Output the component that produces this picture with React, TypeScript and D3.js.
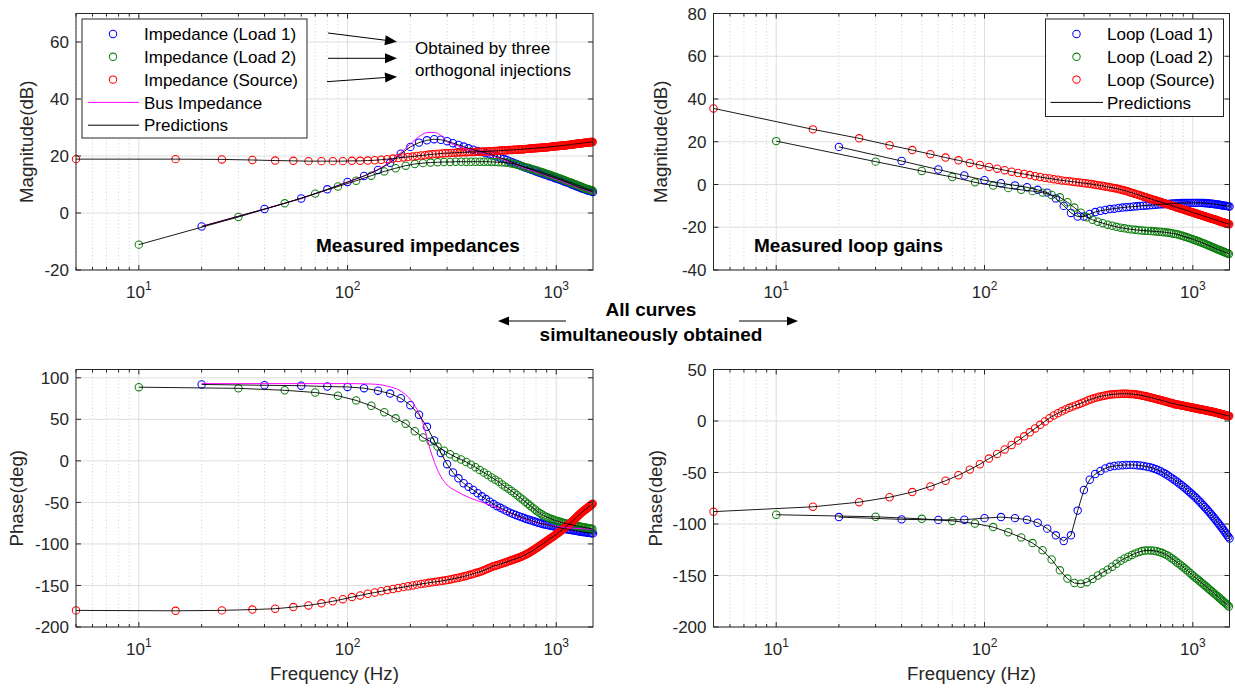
import React from "react";
import * as d3 from "d3";

// injection frequencies (Hz)
const sourceFreqs = [
  5, 15, 25, 35, 45, 55, 65, 75, 85, 95,
  105, 115, 125, 135, 145, 155, 165, 175, 185, 195,
  205, 215, 225, 235, 245, 255, 265, 275, 285, 295,
  305, 315, 325, 335, 345, 355, 365, 375, 385, 395,
  405, 415, 425, 435, 445, 455, 465, 475, 485, 495,
  505, 515, 525, 535, 545, 555, 565, 575, 585, 595,
  605, 615, 625, 635, 645, 655, 665, 675, 685, 695,
  705, 715, 725, 735, 745, 755, 765, 775, 785, 795,
  805, 815, 825, 835, 845, 855, 865, 875, 885, 895,
  905, 915, 925, 935, 945, 955, 965, 975, 985, 995,
  1005, 1015, 1025, 1035, 1045, 1055, 1065, 1075, 1085, 1095,
  1105, 1115, 1125, 1135, 1145, 1155, 1165, 1175, 1185, 1195,
  1205, 1215, 1225, 1235, 1245, 1255, 1265, 1275, 1285, 1295,
  1305, 1315, 1325, 1335, 1345, 1355, 1365, 1375, 1385, 1395,
  1405, 1415, 1425, 1435, 1445, 1455, 1465, 1475, 1485, 1495,
];
const load1Freqs = [
  20, 40, 60, 80, 100, 120, 140, 160, 180, 200,
  220, 240, 260, 280, 300, 320, 340, 360, 380, 400,
  420, 440, 460, 480, 500, 520, 540, 560, 580, 600,
  620, 640, 660, 680, 700, 720, 740, 760, 780, 800,
  820, 840, 860, 880, 900, 920, 940, 960, 980, 1000,
  1020, 1040, 1060, 1080, 1100, 1120, 1140, 1160, 1180, 1200,
  1220, 1240, 1260, 1280, 1300, 1320, 1340, 1360, 1380, 1400,
  1420, 1440, 1460, 1480, 1500,
];
const load2Freqs = [
  10, 30, 50, 70, 90, 110, 130, 150, 170, 190,
  210, 230, 250, 270, 290, 310, 330, 350, 370, 390,
  410, 430, 450, 470, 490, 510, 530, 550, 570, 590,
  610, 630, 650, 670, 690, 710, 730, 750, 770, 790,
  810, 830, 850, 870, 890, 910, 930, 950, 970, 990,
  1010, 1030, 1050, 1070, 1090, 1110, 1130, 1150, 1170, 1190,
  1210, 1230, 1250, 1270, 1290, 1310, 1330, 1350, 1370, 1390,
  1410, 1430, 1450, 1470, 1490,
];

// impedance magnitude (dB)
const impMagLoad1 = [
  -4.7, 1.4, 5.1, 8.3, 10.9, 13.0, 15.1, 17.6, 20.8, 23.2,
  24.7, 25.5, 25.9, 25.7, 25.2, 24.5, 23.9, 23.3, 22.7, 22.2,
  21.8, 21.4, 21.0, 20.6, 20.2, 19.8, 19.4, 19.0, 18.6, 18.1,
  17.7, 17.3, 16.9, 16.5, 16.1, 15.8, 15.5, 15.2, 14.9, 14.6,
  14.3, 14.0, 13.8, 13.5, 13.3, 13.0, 12.8, 12.6, 12.3, 12.1,
  11.9, 11.7, 11.5, 11.2, 11.0, 10.8, 10.6, 10.4, 10.1, 9.9,
  9.7, 9.5, 9.3, 9.1, 8.9, 8.7, 8.6, 8.4, 8.2, 8.1,
  7.9, 7.8, 7.7, 7.5, 7.4,
];
const impMagLoad2 = [
  -11.1, -1.4, 3.4, 6.8, 9.3, 11.3, 13.1, 14.6, 15.7, 16.6,
  17.2, 17.5, 17.7, 17.8, 17.9, 17.9, 18.0, 18.0, 18.0, 18.0,
  18.0, 18.0, 18.0, 18.0, 17.9, 17.9, 17.8, 17.8, 17.7, 17.6,
  17.4, 17.2, 16.9, 16.7, 16.4, 16.1, 15.9, 15.6, 15.4, 15.1,
  14.9, 14.6, 14.4, 14.1, 13.9, 13.6, 13.4, 13.2, 12.9, 12.7,
  12.5, 12.2, 12.0, 11.8, 11.6, 11.3, 11.1, 10.9, 10.7, 10.5,
  10.3, 10.1, 9.9, 9.7, 9.5, 9.3, 9.1, 8.9, 8.7, 8.5,
  8.4, 8.3, 8.1, 8.0, 7.9,
];
const impMagSource = [
  18.9, 18.9, 18.8, 18.6, 18.4, 18.3, 18.2, 18.2, 18.2, 18.2,
  18.3, 18.3, 18.4, 18.5, 18.7, 18.9, 19.1, 19.3, 19.5, 19.7,
  19.8, 20.0, 20.2, 20.3, 20.5, 20.6, 20.7, 20.8, 20.9, 21.0,
  21.0, 21.1, 21.1, 21.2, 21.2, 21.3, 21.3, 21.3, 21.4, 21.4,
  21.4, 21.5, 21.5, 21.5, 21.6, 21.6, 21.6, 21.7, 21.7, 21.7,
  21.8, 21.8, 21.8, 21.9, 21.9, 21.9, 22.0, 22.0, 22.0, 22.1,
  22.1, 22.1, 22.2, 22.2, 22.2, 22.3, 22.3, 22.3, 22.4, 22.4,
  22.4, 22.5, 22.5, 22.5, 22.6, 22.6, 22.6, 22.7, 22.7, 22.7,
  22.8, 22.8, 22.8, 22.9, 22.9, 22.9, 23.0, 23.0, 23.0, 23.1,
  23.1, 23.1, 23.2, 23.2, 23.2, 23.3, 23.3, 23.3, 23.4, 23.4,
  23.4, 23.5, 23.5, 23.5, 23.6, 23.6, 23.6, 23.7, 23.7, 23.7,
  23.8, 23.8, 23.8, 23.9, 23.9, 23.9, 24.0, 24.0, 24.0, 24.1,
  24.1, 24.1, 24.2, 24.2, 24.2, 24.3, 24.3, 24.3, 24.4, 24.4,
  24.4, 24.5, 24.5, 24.5, 24.6, 24.6, 24.6, 24.7, 24.7, 24.7,
  24.7, 24.7, 24.8, 24.8, 24.8, 24.8, 24.9, 24.9, 24.9, 24.9,
];
const busMagFreqs = [20, 40, 60, 80, 100, 120, 140, 160, 180, 200, 220, 240, 260, 280, 300, 330, 360, 400, 450, 500, 600, 700, 800, 1000, 1200, 1500];
const busMag = [-4.7, 1.4, 5.1, 8.2, 10.8, 13.0, 15.3, 18.0, 21.2, 24.2, 26.8, 28.2, 28.3, 27.2, 25.0, 23.8, 22.9, 22.0, 21.0, 20.0, 17.8, 15.8, 14.4, 11.8, 9.6, 7.1];

// impedance phase (deg)
const impPhLoad1 = [
  92, 91, 90.5, 89.5, 89, 87.5, 84.5, 81, 75.5, 67,
  55.5, 41, 24.5, 9.5, -4, -14, -21, -27, -31.3, -35,
  -39, -42.7, -46, -49.2, -52, -54.5, -56.5, -58.5, -60.5, -62.3,
  -63.8, -65.2, -66.5, -67.7, -68.8, -69.9, -70.9, -71.9, -72.8, -73.7,
  -74.5, -75.2, -75.9, -76.5, -77, -77.5, -78, -78.5, -79, -79.5,
  -80, -80.5, -81, -81.4, -81.8, -82.2, -82.6, -83, -83.3, -83.6,
  -83.9, -84.2, -84.5, -84.8, -85.1, -85.3, -85.6, -85.8, -86, -86.3,
  -86.5, -86.7, -86.9, -87.1, -87.3,
];
const impPhLoad2 = [
  88.7, 87.3, 85, 82.3, 78.4, 72.8, 66.3, 58.5, 51.2, 44.8,
  35.7, 28.2, 23.2, 17.2, 12.3, 8, 4.4, 1.6, -1.4, -4.5,
  -7.6, -11, -14, -17, -20, -22.6, -25.1, -28.5, -31.1, -33.5,
  -36.3, -38.6, -41.3, -44, -46.5, -49.2, -51.7, -54.1, -56.3, -58.5,
  -60.8, -62.6, -64.2, -65.8, -67.1, -68.2, -69.2, -70.1, -70.9, -71.7,
  -72.4, -73.1, -73.7, -74.3, -74.8, -75.3, -75.7, -76.1, -76.5, -76.9,
  -77.3, -77.7, -78.1, -78.5, -78.9, -79.2, -79.6, -79.9, -80.2, -80.5,
  -80.8, -81.1, -81.4, -81.7, -82,
];
const impPhSource = [
  -180, -180.5, -180, -179, -178, -176, -174, -171.5, -169, -166.5,
  -164, -162, -160, -158.5, -157, -155.5, -154.2, -153, -152, -151,
  -150, -149, -148.2, -147.5, -146.8, -146.2, -145.6, -145, -144.4, -143.8,
  -143, -142.4, -141.7, -141, -140.3, -139.6, -138.8, -138, -137.2, -136.4,
  -135.6, -134.8, -134, -133.1, -132.2, -131.2, -130.2, -129.2, -128.2, -127.2,
  -126.5, -126, -125.3, -124.6, -124, -123.3, -122.6, -122, -121.3, -120.6,
  -120, -119.4, -118.8, -118.2, -117.6, -117, -116.3, -115.6, -114.9, -114.2,
  -113.5, -112.7, -111.9, -111.1, -110.3, -109.5, -108.6, -107.7, -106.8, -105.9,
  -105, -104.1, -103.2, -102.3, -101.4, -100.5, -99.6, -98.7, -97.8, -96.9,
  -96, -95.2, -94.4, -93.6, -92.8, -92, -91.2, -90.4, -89.6, -88.8,
  -88, -87.2, -86.4, -85.6, -84.8, -84, -83.2, -82.4, -81.6, -80.8,
  -80, -79.2, -78.4, -77.6, -76.8, -76, -75.2, -74.4, -73.6, -72.8,
  -72, -71.1, -70.2, -69.3, -68.4, -67.5, -66.7, -65.9, -65.1, -64.3,
  -63.5, -62.8, -62.1, -61.4, -60.7, -60, -59.4, -58.8, -58.2, -57.6,
  -57, -56.4, -55.8, -55.2, -54.6, -54, -53.4, -52.8, -52.2, -51.6,
];
const busPhFreqs = [20, 60, 100, 130, 155, 180, 200, 215, 230, 240, 250, 265, 280, 300, 335, 390, 450, 530, 620, 700, 800, 900, 1000, 1200, 1500];
const busPh = [93, 93, 93, 92.5, 90, 84, 74, 62, 45, 28, 12, -6, -19, -29, -37, -45, -50.5, -57, -64, -69.5, -74, -77, -79, -81, -82.5];

// loop gain magnitude (dB)
const loopMagLoad1 = [
  17.6, 11.0, 7.0, 4.2, 2.0, 0.6, -0.4, -1.3, -2.5, -3.8,
  -6.5, -10.0, -13.3, -15.0, -15.0, -13.8, -12.9, -12.3, -11.9, -11.5,
  -11.3, -11.0, -10.8, -10.6, -10.5, -10.3, -10.2, -10.0, -9.9, -9.8,
  -9.7, -9.6, -9.5, -9.4, -9.3, -9.2, -9.1, -9.1, -9.0, -8.9,
  -8.9, -8.8, -8.8, -8.7, -8.7, -8.7, -8.6, -8.6, -8.6, -8.6,
  -8.6, -8.6, -8.6, -8.6, -8.6, -8.7, -8.7, -8.8, -8.8, -8.9,
  -9.0, -9.0, -9.1, -9.2, -9.3, -9.4, -9.5, -9.6, -9.7, -9.8,
  -9.9, -10.0, -10.1, -10.2, -10.3,
];
const loopMagLoad2 = [
  20.3, 10.7, 6.3, 3.5, 1.0, -0.5, -1.7, -2.5, -3.1, -3.8,
  -4.9, -6.0, -8.3, -10.8, -13.2, -15.3, -16.5, -17.4, -18.1, -18.8,
  -19.3, -19.8, -20.2, -20.5, -20.8, -21.0, -21.2, -21.4, -21.5, -21.6,
  -21.7, -21.8, -21.9, -22.0, -22.1, -22.2, -22.3, -22.5, -22.6, -22.8,
  -23.0, -23.2, -23.4, -23.7, -24.0, -24.3, -24.6, -24.9, -25.2, -25.5,
  -25.8, -26.1, -26.4, -26.7, -27.0, -27.3, -27.6, -27.9, -28.2, -28.5,
  -28.8, -29.1, -29.4, -29.7, -30.0, -30.3, -30.5, -30.8, -31.0, -31.3,
  -31.5, -31.8, -32.0, -32.3, -32.5,
];
const loopMagSource = [
  35.6, 25.8, 21.6, 18.4, 16.1, 14.2, 12.6, 11.3, 10.1, 9.1,
  8.2, 7.4, 6.7, 6.0, 5.4, 4.9, 4.4, 3.9, 3.5, 3.1,
  2.8, 2.5, 2.2, 1.9, 1.7, 1.5, 1.3, 1.1, 0.9, 0.7,
  0.6, 0.4, 0.2, 0.0, -0.2, -0.4, -0.6, -0.8, -1.0, -1.2,
  -1.4, -1.6, -1.8, -2.0, -2.2, -2.5, -2.7, -2.9, -3.2, -3.5,
  -3.8, -4.0, -4.3, -4.5, -4.8, -5.0, -5.3, -5.5, -5.8, -6.0,
  -6.2, -6.5, -6.7, -6.9, -7.1, -7.3, -7.5, -7.7, -7.9, -8.1,
  -8.3, -8.5, -8.7, -8.9, -9.1, -9.3, -9.4, -9.6, -9.8, -10.0,
  -10.1, -10.3, -10.5, -10.6, -10.8, -11.0, -11.1, -11.3, -11.4, -11.6,
  -11.7, -11.9, -12.0, -12.2, -12.3, -12.5, -12.6, -12.8, -12.9, -13.0,
  -13.2, -13.3, -13.4, -13.6, -13.7, -13.8, -14.0, -14.1, -14.2, -14.3,
  -14.5, -14.6, -14.7, -14.8, -15.0, -15.1, -15.2, -15.3, -15.4, -15.5,
  -15.7, -15.8, -15.9, -16.0, -16.1, -16.2, -16.3, -16.4, -16.5, -16.6,
  -16.7, -16.8, -17.0, -17.1, -17.2, -17.3, -17.4, -17.5, -17.6, -17.7,
  -17.8, -17.9, -18.0, -18.0, -18.1, -18.2, -18.3, -18.4, -18.5, -18.6,
];

// loop gain phase (deg)
const loopPhLoad1 = [
  -93.3, -95.5, -96, -95.8, -94.3, -93.3, -94.3, -95.8, -98.8, -104.5,
  -111, -116.5, -111, -87, -67, -57, -51.5, -48.5, -46, -44.5,
  -43.7, -43.2, -42.9, -42.7, -42.6, -42.7, -42.9, -43.2, -43.7, -44.3,
  -44.8, -45.6, -46.5, -47.6, -48.8, -50.1, -51.5, -53, -54.5, -56,
  -57.5, -59, -60.6, -62.2, -63.8, -65.4, -67, -68.6, -70.2, -71.8,
  -73.4, -75, -76.7, -78.4, -80.1, -81.8, -83.5, -85.2, -86.9, -88.6,
  -90.3, -92, -93.7, -95.4, -97.1, -98.8, -100.5, -102.2, -103.9, -105.6,
  -107.3, -109, -110.7, -112.4, -114.1,
];
const loopPhLoad2 = [
  -91, -93, -95, -97, -99.5, -103, -108, -113, -118.5, -125.5,
  -134.5, -145, -153, -157.3, -158, -156.5, -153.3, -150, -147, -144.3,
  -141.5, -138.5, -135.8, -133.5, -131.8, -130, -128.5, -127.3, -126.3, -125.8,
  -125.6, -125.7, -126, -126.5, -127.2, -128, -129, -130.2, -131.6, -133.2,
  -134.8, -136.4, -138, -139.6, -141.2, -142.8, -144.4, -146, -147.6, -149.2,
  -150.7, -152.1, -153.5, -154.9, -156.3, -157.6, -158.9, -160.2, -161.5, -162.8,
  -164, -165.2, -166.4, -167.6, -168.8, -170, -171.2, -172.3, -173.4, -174.5,
  -175.6, -176.7, -177.8, -178.9, -180,
];
const loopPhSource = [
  -88, -83.3, -78.8, -74, -69, -63.5, -58, -52.7, -47.2, -42,
  -36.5, -32, -27.6, -23.3, -19, -14.9, -11, -7.2, -3.7, -0.4,
  2.8, 5.3, 7.5, 9.5, 11.2, 12.8, 14.1, 15.4, 16.6, 17.8,
  19, 20.1, 21.1, 22, 22.8, 23.5, 24.1, 24.6, 25, 25.4,
  25.7, 25.9, 26.1, 26.2, 26.3, 26.4, 26.4, 26.4, 26.4, 26.3,
  26.2, 26.1, 25.9, 25.7, 25.5, 25.2, 24.9, 24.6, 24.3, 24,
  23.6, 23.3, 22.9, 22.6, 22.2, 21.9, 21.5, 21.2, 20.8, 20.5,
  20.1, 19.8, 19.4, 19.1, 18.8, 18.4, 18.1, 17.8, 17.5, 17.2,
  16.9, 16.6, 16.3, 16.1, 15.9, 15.7, 15.5, 15.3, 15.1, 14.9,
  14.7, 14.5, 14.3, 14.1, 13.9, 13.7, 13.5, 13.3, 13.1, 12.9,
  12.8, 12.6, 12.4, 12.2, 12.1, 11.9, 11.7, 11.6, 11.4, 11.2,
  11.1, 10.9, 10.8, 10.6, 10.5, 10.3, 10.1, 10.0, 9.8, 9.7,
  9.5, 9.4, 9.2, 9.1, 8.9, 8.7, 8.6, 8.4, 8.2, 8.0,
  7.9, 7.7, 7.5, 7.3, 7.2, 7.0, 6.8, 6.6, 6.5, 6.3,
  6.1, 5.9, 5.8, 5.6, 5.4, 5.3, 5.1, 5.0, 4.9, 4.8,
];

const xTicks = [10, 100, 1000];
const xTickExponents = ["1", "2", "3"];
const magTicksImp = [-20, 0, 20, 40, 60];
const magTicksLoop = [-40, -20, 0, 20, 40, 60, 80];
const phaseTicksImp = [-200, -150, -100, -50, 0, 50, 100];
const phaseTicksLoop = [-200, -150, -100, -50, 0, 50];

const impLegend = ["Impedance (Load 1)", "Impedance (Load 2)", "Impedance (Source)", "Bus Impedance", "Predictions"];
const loopLegend = ["Loop (Load 1)", "Loop (Load 2)", "Loop (Source)", "Predictions"];

const FONT = "'Liberation Sans', Arial, Helvetica, sans-serif";
const AX = "#262626";
const BLUE = "#0000ff";
const GREEN = "#0f7f0f";
const RED = "#ff0000";
const MAGENTA = "#ff00ff";
const X_DOMAIN: [number, number] = [5, 1500];
const MARKER_R = 3.7;

type Series = { freqs: number[]; values: number[]; color: string };

function Panel({ box, yDomain, yTicks, series, bus, yLabel, yLabelX, showXLabel }: any) {
  const { left, right, top, bottom } = box;
  const x = d3.scaleLog().domain(X_DOMAIN).range([left, right]);
  const y = d3.scaleLinear().domain(yDomain).range([bottom, top]);
  const minors: number[] = [];
  [1, 10, 100].forEach((d) => [2, 3, 4, 5, 6, 7, 8, 9].forEach((m) => {
    const v = m * d;
    if (v > X_DOMAIN[0] - 0.01 && v < X_DOMAIN[1]) minors.push(v);
  }));
  const line = d3.line<[number, number]>().x((d) => x(d[0])).y((d) => y(d[1]));
  const busLine = d3.line<[number, number]>().x((d) => x(d[0])).y((d) => y(d[1])).curve(d3.curveMonotoneX);
  const clipId = `clip-${Math.round(left)}-${Math.round(top)}`;

  return (
    <g>
      <defs>
        <clipPath id={clipId}>
          <rect x={left} y={top} width={right - left} height={bottom - top} />
        </clipPath>
      </defs>
      <rect x={left} y={top} width={right - left} height={bottom - top} fill="#fff" />
      {minors.map((v) => (
        <line key={"mg" + v} x1={x(v)} x2={x(v)} y1={top} y2={bottom} stroke="#c8c8c8" strokeWidth={0.8} strokeDasharray="1 2.5" />
      ))}
      {xTicks.map((v) => (
        <line key={"xg" + v} x1={x(v)} x2={x(v)} y1={top} y2={bottom} stroke="#dedede" />
      ))}
      {yTicks.map((v: number) => (
        <line key={"yg" + v} x1={left} x2={right} y1={y(v)} y2={y(v)} stroke="#dedede" />
      ))}
      {series.map((s: Series, i: number) => (
        <g key={"m" + i}>
          {s.freqs.map((f, j) => (
            <circle key={j} cx={x(f)} cy={y(s.values[j])} r={MARKER_R} fill="none" stroke={s.color} strokeWidth={1.05} />
          ))}
        </g>
      ))}
      <g clipPath={`url(#${clipId})`}>
        {bus && (
          <path d={busLine(d3.zip(bus.freqs, bus.values) as any) || ""} fill="none" stroke={MAGENTA} strokeWidth={1} />
        )}
        {series.map((s: Series, i: number) => (
          <path key={"p" + i} d={line(d3.zip(s.freqs, s.values) as any) || ""} fill="none" stroke="#000" strokeWidth={0.9} />
        ))}
      </g>
      <rect x={left} y={top} width={right - left} height={bottom - top} fill="none" stroke={AX} strokeWidth={1} />
      {minors.map((v) => (
        <g key={"mt" + v}>
          <line x1={x(v)} x2={x(v)} y1={bottom} y2={bottom - 3} stroke={AX} />
          <line x1={x(v)} x2={x(v)} y1={top} y2={top + 3} stroke={AX} />
        </g>
      ))}
      {xTicks.map((v, i) => (
        <g key={"xt" + v}>
          <line x1={x(v)} x2={x(v)} y1={bottom} y2={bottom - 5} stroke={AX} />
          <line x1={x(v)} x2={x(v)} y1={top} y2={top + 5} stroke={AX} />
          <text x={x(v)} y={bottom + 28} textAnchor="middle" fontSize={17} fill={AX}>
            <tspan>10</tspan>
            <tspan fontSize={12} dy={-8}>{xTickExponents[i]}</tspan>
          </text>
        </g>
      ))}
      {yTicks.map((v: number) => (
        <g key={"yt" + v}>
          <line x1={left} x2={left + 5} y1={y(v)} y2={y(v)} stroke={AX} />
          <line x1={right} x2={right - 5} y1={y(v)} y2={y(v)} stroke={AX} />
          <text x={left - 7} y={y(v)} dy="0.36em" textAnchor="end" fontSize={17} fill={AX}>{v}</text>
        </g>
      ))}
      <text transform={`translate(${yLabelX},${(top + bottom) / 2}) rotate(-90)`} textAnchor="middle" fontSize={18.7} fill={AX}>{yLabel}</text>
      {showXLabel && (
        <text x={(left + right) / 2} y={680} textAnchor="middle" fontSize={18.7} fill={AX}>Frequency (Hz)</text>
      )}
    </g>
  );
}

function Arrow({ x1, y1, x2, y2, head = 12, width = 10 }: any) {
  const a = Math.atan2(y2 - y1, x2 - x1);
  const bx = x2 - head * Math.cos(a);
  const by = y2 - head * Math.sin(a);
  const px = Math.sin(a) * width / 2;
  const py = -Math.cos(a) * width / 2;
  return (
    <g>
      <line x1={x1} y1={y1} x2={bx} y2={by} stroke="#000" strokeWidth={1} />
      <polygon points={`${x2},${y2} ${bx + px},${by + py} ${bx - px},${by - py}`} fill="#000" />
    </g>
  );
}

function Legend({ x0, y0, w, h, markerX, textX, lineX1, lineX2, labels, colors }: any) {
  return (
    <g>
      <rect x={x0} y={y0} width={w} height={h} fill="#fff" stroke={AX} strokeWidth={1} />
      {labels.map((lab: string, i: number) => {
        const cy = y0 + 15 + i * 22.8;
        const c = colors[i];
        return (
          <g key={lab}>
            {c.type === "marker" ? (
              <circle cx={markerX} cy={cy} r={MARKER_R} fill="none" stroke={c.color} strokeWidth={1.05} />
            ) : (
              <line x1={lineX1} x2={lineX2} y1={cy} y2={cy} stroke={c.color} strokeWidth={1} />
            )}
            <text x={textX} y={cy} dy="0.36em" fontSize={17} fill="#000">{lab}</text>
          </g>
        );
      })}
    </g>
  );
}

export default function App() {
  const leftCol = { left: 76, right: 593 };
  const rightCol = { left: 713.5, right: 1229.5 };
  const topRow = { top: 13.5, bottom: 270 };
  const bottomRow = { top: 369.5, bottom: 627 };

  const impMag: Series[] = [
    { freqs: load1Freqs, values: impMagLoad1, color: BLUE },
    { freqs: load2Freqs, values: impMagLoad2, color: GREEN },
    { freqs: sourceFreqs, values: impMagSource, color: RED },
  ];
  const impPh: Series[] = [
    { freqs: load1Freqs, values: impPhLoad1, color: BLUE },
    { freqs: load2Freqs, values: impPhLoad2, color: GREEN },
    { freqs: sourceFreqs, values: impPhSource, color: RED },
  ];
  const loopMag: Series[] = [
    { freqs: load1Freqs, values: loopMagLoad1, color: BLUE },
    { freqs: load2Freqs, values: loopMagLoad2, color: GREEN },
    { freqs: sourceFreqs, values: loopMagSource, color: RED },
  ];
  const loopPh: Series[] = [
    { freqs: load1Freqs, values: loopPhLoad1, color: BLUE },
    { freqs: load2Freqs, values: loopPhLoad2, color: GREEN },
    { freqs: sourceFreqs, values: loopPhSource, color: RED },
  ];

  return (
    <svg width={1235} height={691} style={{ position: "absolute", left: 0, top: 0, background: "#fff" }} fontFamily={FONT}>
      <rect width={1235} height={691} fill="#fff" />
      <Panel box={{ ...leftCol, ...topRow }} yDomain={[-20, 70]} yTicks={magTicksImp} series={impMag}
        bus={{ freqs: busMagFreqs, values: busMag }} yLabel="Magnitude(dB)" yLabelX={33} />
      <Panel box={{ ...rightCol, ...topRow }} yDomain={[-40, 80]} yTicks={magTicksLoop} series={loopMag}
        yLabel="Magnitude(dB)" yLabelX={667} />
      <Panel box={{ ...leftCol, ...bottomRow }} yDomain={[-200, 110]} yTicks={phaseTicksImp} series={impPh}
        bus={{ freqs: busPhFreqs, values: busPh }} yLabel="Phase(deg)" yLabelX={23} showXLabel />
      <Panel box={{ ...rightCol, ...bottomRow }} yDomain={[-200, 50]} yTicks={phaseTicksLoop} series={loopPh}
        yLabel="Phase(deg)" yLabelX={662} showXLabel />

      <Legend x0={82} y0={19} w={225} h={119} markerX={113} textX={144} lineX1={88} lineX2={139}
        labels={impLegend}
        colors={[
          { type: "marker", color: BLUE },
          { type: "marker", color: GREEN },
          { type: "marker", color: RED },
          { type: "line", color: MAGENTA },
          { type: "line", color: "#000" },
        ]} />
      <Legend x0={1045.5} y0={19} w={178} h={97.5} markerX={1076.5} textX={1107} lineX1={1050.5} lineX2={1103}
        labels={loopLegend}
        colors={[
          { type: "marker", color: BLUE },
          { type: "marker", color: GREEN },
          { type: "marker", color: RED },
          { type: "line", color: "#000" },
        ]} />

      <Arrow x1={328} y1={33} x2={397} y2={41.7} />
      <Arrow x1={328} y1={58.3} x2={397} y2={58.3} />
      <Arrow x1={327} y1={81.7} x2={397} y2={76.7} />
      <text x={415} y={47.7} dy="0.36em" fontSize={17} fill="#000">Obtained by three</text>
      <text x={415} y={70} dy="0.36em" fontSize={17} fill="#000">orthogonal injections</text>

      <text x={316} y={252} fontSize={19} fontWeight="bold" fill="#000">Measured impedances</text>
      <text x={754} y={252} fontSize={19} fontWeight="bold" fill="#000">Measured loop gains</text>

      <text x={651} y={316} textAnchor="middle" fontSize={19} fontWeight="bold" fill="#000">All curves</text>
      <text x={651} y={341} textAnchor="middle" fontSize={19} fontWeight="bold" fill="#000">simultaneously obtained</text>
      <Arrow x1={566} y1={321} x2={498} y2={321} head={11} width={9} />
      <Arrow x1={739} y1={321} x2={798} y2={321} head={11} width={9} />
    </svg>
  );
}
